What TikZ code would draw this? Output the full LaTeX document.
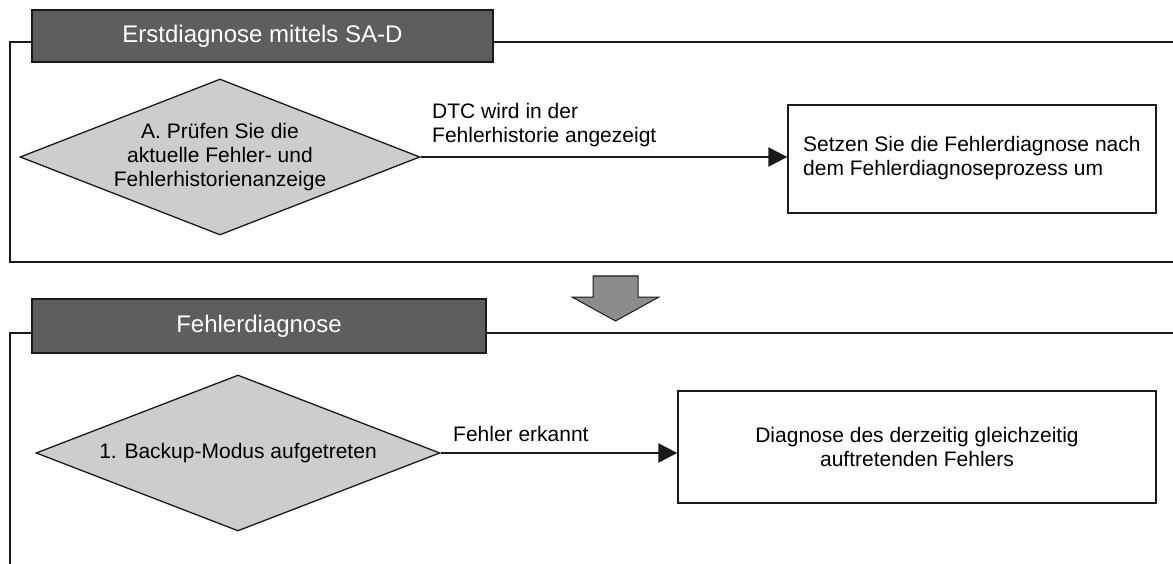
\documentclass[tikz,border=0pt]{standalone}
\usepackage{fontspec}
\setmainfont{Liberation Sans}
\usetikzlibrary{shapes.geometric,arrows.meta}
\definecolor{barfill}{HTML}{5E5E5E}
\definecolor{decfill}{HTML}{CDCDCD}
\definecolor{bigarrow}{HTML}{8C8C8C}
\definecolor{lineclr}{HTML}{1A1A1A}
\tikzset{
  bodytext/.style={font=\fontsize{21}{24}\selectfont},
  titlebar/.style={draw=lineclr, line width=1.6pt, fill=barfill, text=white,
    font=\fontsize{24}{27}\selectfont, inner sep=0pt},
  decision/.style={diamond, draw=lineclr, line width=1.3pt, fill=decfill, inner sep=0pt},
  stepbox/.style={draw=lineclr, line width=1.4pt, fill=white, inner sep=0pt},
  frameline/.style={draw=lineclr, line width=1.4pt},
  flow/.style={draw=lineclr, line width=2.4pt, -{Triangle[length=19pt,width=19pt]}},
  blockarrow/.style={draw=lineclr, line width=1pt, fill=bigarrow, line join=miter},
}
\begin{document}
\begin{tikzpicture}[x=1pt,y=-1pt]
\useasboundingbox (0,0) rectangle (1173,564);

% ---------- section 1 ----------
\draw[frameline] (32,42) -- (10,42) -- (10,262) -- (1173,262);
\draw[frameline] (493,42) -- (1173,42);
\node[titlebar, minimum width=461pt, minimum height=52pt] (t1) at (262.5,36) {Erstdiagnose mittels SA-D};

\node[decision, minimum width=400pt, minimum height=156pt,
  label={[bodytext, align=center]center:A. Prüfen Sie die\\aktuelle Fehler- und\\Fehlerhistorienanzeige}]
  (dA) at (220,157) {};
\node[stepbox, minimum width=368pt, minimum height=108pt] (bA) at (972,159) {};
\node[bodytext, align=left, anchor=west, inner sep=0pt] (tA) at (803,158)
  {Setzen Sie die Fehlerdiagnose nach\\dem Fehlerdiagnoseprozess um};
\draw[flow] (dA.east) -- (dA.east -| bA.west);
\node[bodytext, align=left, anchor=west, inner sep=0pt] (lA) at (432,125)
  {DTC wird in der\\Fehlerhistorie angezeigt};

% ---------- transition arrow between the sections ----------
\draw[blockarrow] (593,276) -- (638,276) -- (638,297) -- (659,297) -- (615.5,321)
  -- (572,297) -- (593,297) -- cycle;

% ---------- section 2 ----------
\draw[frameline] (32,333) -- (10,333) -- (10,564);
\draw[frameline] (486,333) -- (1173,333);
\node[titlebar, minimum width=454pt, minimum height=54pt] (t2) at (259,326) {Fehlerdiagnose};

\node[decision, minimum width=404pt, minimum height=156pt,
  label={[bodytext]center:1. Backup-Modus aufgetreten}]
  (d1) at (238,453) {};
\node[stepbox, minimum width=478pt, minimum height=112pt, bodytext, align=center] (b1) at (917,447)
  {Diagnose des derzeitig gleichzeitig\\auftretenden Fehlers};
\draw[flow] (d1.east) -- (d1.east -| b1.west);
\node[bodytext, anchor=west, inner sep=0pt] (l1) at (453,434) {Fehler erkannt};
\end{tikzpicture}
\end{document}
